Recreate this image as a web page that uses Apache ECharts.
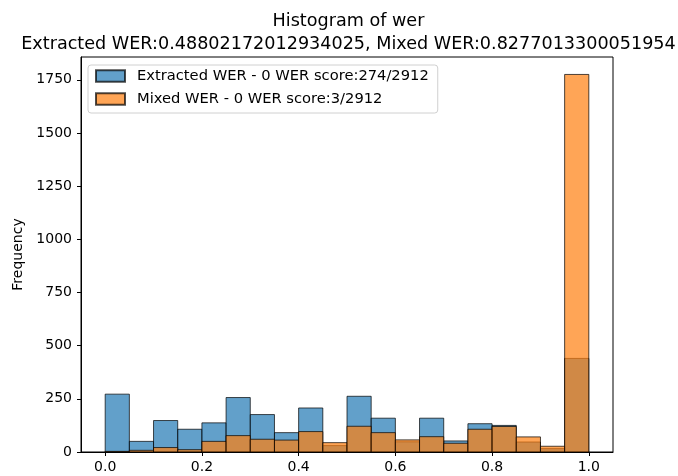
<!DOCTYPE html>
<html>
<head>
<meta charset="utf-8">
<script src="https://cdn.jsdelivr.net/npm/echarts@6/dist/echarts.min.js"></script>
<style>html,body{margin:0;padding:0;background:#fff;}#c{width:678px;height:476px;}</style>
</head>
<body>
<div id="c"></div>
<script>
const binEdges = [0.0,0.05,0.1,0.15,0.2,0.25,0.3,0.35,0.4,0.45,0.5,0.55,0.6,0.65,0.7,0.75,0.8,0.85,0.9,0.95,1.0];
const extractedCounts = [272,50,148,107,137,256,176,91,207,30,262,159,48,159,52,133,125,47,16,440];
const mixedCounts = [3,8,21,11,50,77,60,56,96,44,121,91,57,72,41,107,120,71,27,1775];
const xTickLabels = [0.0,0.2,0.4,0.6,0.8,1.0];
const yTickLabels = [0,250,500,750,1000,1250,1500,1750];
const titleText = 'Histogram of wer\nExtracted WER:0.48802172012934025, Mixed WER:0.8277013300051954';
const extractedName = 'Extracted WER - 0 WER score:274/2912';
const mixedName = 'Mixed WER - 0 WER score:3/2912';

const FONT = 'DejaVu Sans';
function toData(counts){
  return counts.map((c,i)=>[binEdges[i], binEdges[i+1], c]);
}
function makeRender(fill){
  return function(params, api){
    const x0 = api.value(0), x1 = api.value(1), y = api.value(2);
    const p0 = api.coord([x0, y]);
    const p1 = api.coord([x1, 0]);
    return {
      type: 'rect',
      shape: {x: p0[0], y: p0[1], width: p1[0]-p0[0], height: p1[1]-p0[1]},
      style: {fill: fill, stroke: '#000', lineWidth: 1, opacity: 0.7}
    };
  };
}
const chart = echarts.init(document.getElementById('c'), null, {renderer:'canvas'});
chart.setOption({
  animation: false,
  backgroundColor: '#fff',
  title: {
    text: titleText,
    left: 343.5, top: 5, textAlign: 'center',
    textStyle: {fontFamily: FONT, fontSize: 17.6, fontWeight: 'normal', color: '#000', lineHeight: 23}
  },
  legend: {
    orient: 'vertical', left: 88, top: 65,
    padding: [3, 9, 6, 7],
    itemWidth: 29, itemHeight: 11.5, itemGap: 7,
    icon: 'rect',
    backgroundColor: 'rgba(255,255,255,0.8)',
    borderColor: '#d0d0d0', borderWidth: 1, borderRadius: 3,
    textStyle: {fontFamily: FONT, fontSize: 14.7, lineHeight: 16, color: '#000', padding: [0,0,0,7]},
    data: [extractedName, mixedName]
  },
  grid: {left: 81, right: 65, top: 57, bottom: 24, show: true, borderColor: '#000', borderWidth: 1, backgroundColor: 'transparent'},
  xAxis: {
    type: 'value', min: -0.05, max: 1.05,
    splitLine: {show: false},
    axisLine: {show: true, onZero: false, lineStyle: {color: '#000'}},
    axisTick: {show: true, length: 4, lineStyle: {color: '#000'}, customValues: xTickLabels},
    axisLabel: {fontFamily: FONT, fontSize: 14, color: '#000', margin: 8, customValues: xTickLabels, formatter: v => v.toFixed(1)}
  },
  yAxis: {
    type: 'value', min: 0, max: 1857,
    name: 'Frequency', nameLocation: 'middle', nameGap: 55, nameRotate: 90,
    nameTextStyle: {fontFamily: FONT, fontSize: 14, color: '#000'},
    splitLine: {show: false},
    axisLine: {show: true, onZero: false, lineStyle: {color: '#000'}},
    axisTick: {show: true, length: 4, lineStyle: {color: '#000'}, customValues: yTickLabels},
    axisLabel: {fontFamily: FONT, fontSize: 14, color: '#000', margin: 9, customValues: yTickLabels, formatter: v => String(v)}
  },
  series: [
    {
      name: extractedName, type: 'custom',
      renderItem: makeRender('#1f77b4'),
      itemStyle: {color: 'rgba(31,119,180,0.7)', borderColor: 'rgba(0,0,0,0.7)', borderWidth: 1},
      encode: {x: [0,1], y: 2},
      data: toData(extractedCounts)
    },
    {
      name: mixedName, type: 'custom',
      renderItem: makeRender('#ff7f0e'),
      itemStyle: {color: 'rgba(255,127,14,0.7)', borderColor: 'rgba(0,0,0,0.7)', borderWidth: 1},
      encode: {x: [0,1], y: 2},
      data: toData(mixedCounts)
    }
  ]
});
</script>
</body>
</html>
